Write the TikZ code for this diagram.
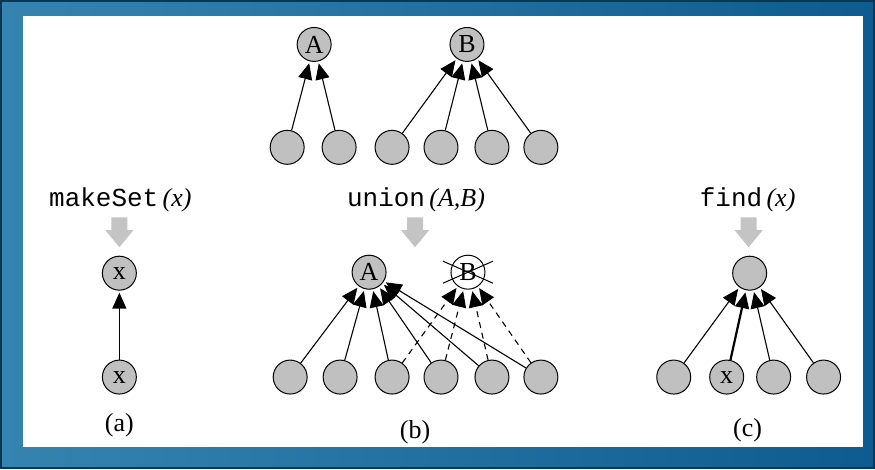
\documentclass[tikz,border=0pt]{standalone}
\usepackage{fontspec}
\setmainfont{Liberation Serif}
\setmonofont{Liberation Mono}
\usetikzlibrary{arrows.meta, calc}
\definecolor{cFrameL}{HTML}{3584B0}
\definecolor{cFrameR}{HTML}{0E5C8F}
\definecolor{cNode}{HTML}{C0C0C0}
\definecolor{cDrop}{HTML}{C4C4C4}
\tikzset{
  setnode/.style={
    draw=black, fill=#1, circle, line width=0.5pt,
    minimum size=17pt, inner sep=0pt,
    font=\fontsize{13}{15}\selectfont,
  },
  setnode/.default=cNode,
  arw/.style={-{Triangle[length=8pt, width=7pt]}, line width=0.55pt, shorten >=1pt},
  darw/.style={arw, dashed, dash pattern=on 3pt off 2.5pt},
  oplabel/.style={font=\fontsize{13}{15}\selectfont},
  pics/dropmark/.style={code={
    \fill[cDrop] (-8,0) -- (8,0) -- (8,13) -- (14,13) -- (0,30)
      -- (-14,13) -- (-8,13) -- cycle;
  }},
}

\begin{document}
\begin{tikzpicture}[x=0.5pt, y=-0.5pt]

  % frame
  \shade[left color=cFrameL, right color=cFrameR] (0,0) rectangle (875,469);
  \draw[cFrameR!60!black, line width=1pt] (0.5,0.5) rectangle (874.5,468.5);
  \fill[white] (23,16) rectangle (863,447);
  \useasboundingbox (0,0) rectangle (875,469);

  % (a) makeSet
  \node[oplabel] (lblA) at (120,200) {\texttt{makeSet}\,\textit{(x)}};
  \pic at (119,217) {dropmark};
  \node[setnode] (ax) at (119,273) {x};
  \node[setnode] (ay) at (119,377) {x};
  \draw[arw, line width=0.7pt] (ay) -- (ax);
  \node[oplabel] (capA) at (119,425) {(a)};

  % (b) two sets before the union
  \node[setnode] (tA) at (314,44) {A};
  \node[setnode] (tB) at (467,44) {B};
  \foreach \i/\x in {1/287, 2/339, 3/392, 4/441, 5/492, 6/541}
    \node[setnode] (t\i) at (\x,147) {};
  \foreach \i in {1,2}
    \draw[arw] (t\i) -- (tA);
  \foreach \i in {3,4,5,6}
    \draw[arw] (t\i) -- (tB);

  % (b) union
  \node[oplabel] (lblB) at (416,200) {\texttt{union}\,\textit{(A,B)}};
  \pic at (415,217) {dropmark};
  \node[setnode] (bA) at (369,272) {A};
  \node[setnode=white] (bB) at (468,272) {B};
  \draw[line width=0.5pt] ([shift={(-25,-11)}]bB.center) -- ([shift={(25,11)}]bB.center);
  \draw[line width=0.5pt] ([shift={(-25,11)}]bB.center) -- ([shift={(25,-11)}]bB.center);
  \foreach \i/\x in {1/290, 2/340, 3/392, 4/441, 5/492, 6/541}
    \node[setnode] (b\i) at (\x,377) {};
  \foreach \i in {3,4,5,6}
    \draw[darw] (b\i) -- (bB);
  \foreach \i in {1,...,6}
    \draw[arw] (b\i) -- (bA);
  \node[oplabel] (capB) at (415,432) {(b)};

  % (c) find
  \node[oplabel] (lblC) at (748,200) {\texttt{find}\,\textit{(x)}};
  \pic at (749,217) {dropmark};
  \node[setnode] (cr) at (750,273) {};
  \node[setnode] (c1) at (674,377) {};
  \node[setnode] (c2) at (727,377) {x};
  \node[setnode] (c3) at (774,377) {};
  \node[setnode] (c4) at (824,377) {};
  \draw[arw] (c1) -- (cr);
  \draw[arw, line width=1.1pt] (c2) -- (cr);
  \draw[arw] (c3) -- (cr);
  \draw[arw] (c4) -- (cr);
  \node[oplabel] (capC) at (748,430) {(c)};

\end{tikzpicture}
\end{document}
